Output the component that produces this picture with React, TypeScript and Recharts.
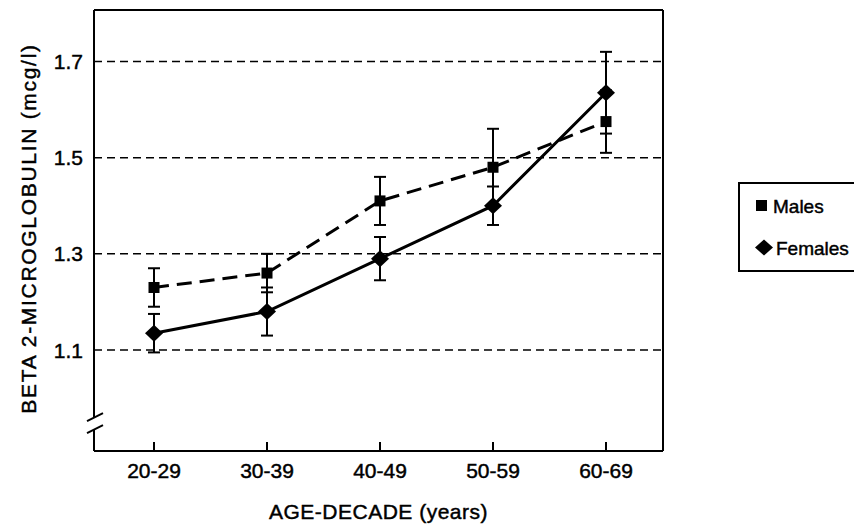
import React from "react";
import {
  LineChart,
  Line,
  XAxis,
  YAxis,
  ErrorBar,
  ReferenceLine,
  Legend,
} from "recharts";

// values
const categories = ["20-29", "30-39", "40-49", "50-59", "60-69"];
const males = [1.23, 1.26, 1.41, 1.48, 1.575];
const malesErr = [0.04, 0.04, 0.05, 0.08, 0.065];
const females = [1.135, 1.18, 1.29, 1.4, 1.635];
const femalesErr = [0.04, 0.05, 0.045, 0.04, 0.085];
const yTicks = [1.1, 1.3, 1.5, 1.7];
const Y_BREAK = 0.95;
const Y_MIN = 0.89;
const Y_MAX = 1.807;
const seriesOrder = ["males", "females"];

const data = categories.map((age, i) => ({
  age,
  males: males[i],
  malesErr: malesErr[i],
  females: females[i],
  femalesErr: femalesErr[i],
}));

const FONT = "'Liberation Sans', Arial, Helvetica, sans-serif";
// scanned text is a bit heavier than a plain regular weight
const textStyle = { stroke: "#000", strokeWidth: 0.45 };

const SquareDot = (props: any) => {
  const { cx, cy, index } = props;
  return (
    <rect key={`m-${index}`} x={cx - 5.5} y={cy - 5.5} width={11} height={11} fill="#000" />
  );
};

const DiamondDot = (props: any) => {
  const { cx, cy, index } = props;
  return (
    <path
      key={`f-${index}`}
      d={`M${cx},${cy - 8.5}L${cx + 9},${cy}L${cx},${cy + 8.5}L${cx - 9},${cy}Z`}
      fill="#000"
    />
  );
};

const YTick = (props: any) => {
  const { x, y, payload } = props;
  const ax = x + 11; // axis line position
  if (payload.value === Y_BREAK) {
    // axis break marks
    return (
      <g stroke="#000" strokeWidth={2}>
        <line x1={ax - 7} y1={y - 1} x2={ax + 9} y2={y - 9} />
        <line x1={ax - 7} y1={y + 11} x2={ax + 9} y2={y + 3} />
      </g>
    );
  }
  return (
    <text
      x={x}
      y={y}
      dy={7.5}
      textAnchor="end"
      fontSize={21}
      fill="#000"
      fontFamily={FONT}
      style={textStyle}
    >
      {payload.value.toFixed(1)}
    </text>
  );
};

const XTick = (props: any) => {
  const { x, y, payload } = props;
  return (
    <g>
      <line x1={x} x2={x} y1={y} y2={y - 9} stroke="#000" strokeWidth={2} />
      <text
        x={x}
        y={y}
        dy={27}
        textAnchor="middle"
        fontSize={21}
        fill="#000"
        fontFamily={FONT}
        style={textStyle}
      >
        {payload.value}
      </text>
    </g>
  );
};

const renderLegend = (props: any) => {
  const { payload = [] } = props;
  const items = seriesOrder
    .map((k) => payload.find((p: any) => p.dataKey === k))
    .filter(Boolean);
  return (
    <svg width={140} height={90} style={{ display: "block" }}>
      <rect x={1} y={1} width={138} height={88} fill="#fff" stroke="#000" strokeWidth={2} />
      {items.map((entry: any, i: number) => {
        const cy = i === 0 ? 23.5 : 65.5;
        const isMale = entry.dataKey === "males";
        return (
          <g key={`legend-${i}`}>
            {isMale ? (
              <rect x={18} y={cy - 5.5} width={11} height={11} fill="#000" />
            ) : (
              <path d={`M26,${cy - 8}L35,${cy}L26,${cy + 8}L17,${cy}Z`} fill="#000" />
            )}
            <text
              x={isMale ? 35 : 38}
              y={cy + 7}
              fontSize={19}
              fill="#000"
              fontFamily={FONT}
              style={textStyle}
            >
              {entry.value}
            </text>
          </g>
        );
      })}
    </svg>
  );
};

export default function App() {
  return (
    <div style={{ width: 854, height: 527, overflow: "hidden", background: "#fff" }}>
      <style>{`body{margin:0;overflow:hidden}`}</style>
      <LineChart
        width={854}
        height={527}
        data={data}
        margin={{ top: 10, right: 189, bottom: 0, left: 0 }}
        style={{ fontFamily: FONT }}
      >
        <XAxis
          dataKey="age"
          height={76}
          padding={{ left: 60, right: 57 }}
          axisLine={{ stroke: "#000", strokeWidth: 2 }}
          tickLine={false}
          tickSize={0}
          tickMargin={0}
          tick={<XTick />}
          interval={0}
          label={{
            value: "AGE-DECADE (years)",
            position: "insideBottom",
            offset: 8,
            fill: "#000",
            fontSize: 21,
            style: { ...textStyle, letterSpacing: 0.5 },
          }}
        />
        <YAxis
          width={94}
          type="number"
          domain={[Y_MIN, Y_MAX]}
          allowDataOverflow
          ticks={[Y_BREAK, ...yTicks]}
          interval={0}
          tickLine={false}
          tickSize={0}
          tickMargin={11}
          tick={<YTick />}
          axisLine={{ stroke: "#000", strokeWidth: 2, strokeDasharray: "407 12 40" }}
          label={{
            value: "BETA 2-MICROGLOBULIN (mcg/l)",
            angle: -90,
            position: "insideLeft",
            offset: 29,
            dy: -2,
            fill: "#000",
            fontSize: 21,
            style: { ...textStyle, textAnchor: "middle", letterSpacing: 1.7 },
          }}
        />
        <YAxis
          yAxisId="frame"
          orientation="right"
          width={2}
          domain={[0, 1]}
          tick={false}
          tickLine={false}
          axisLine={{ stroke: "#000", strokeWidth: 2 }}
        />
        <ReferenceLine y={Y_MAX} stroke="#000" strokeWidth={2} />
        {yTicks.map((v) => (
          <ReferenceLine
            key={`grid-${v}`}
            y={v}
            stroke="#000"
            strokeWidth={1.5}
            strokeDasharray="8 5"
          />
        ))}
        <Line
          name="Males"
          dataKey="males"
          stroke="#000"
          strokeWidth={3}
          strokeDasharray="15 8"
          dot={SquareDot}
          activeDot={false}
          isAnimationActive={false}
        >
          <ErrorBar
            dataKey="malesErr"
            direction="y"
            width={6}
            stroke="#000"
            strokeWidth={2}
            isAnimationActive={false}
          />
        </Line>
        <Line
          name="Females"
          dataKey="females"
          stroke="#000"
          strokeWidth={3}
          dot={DiamondDot}
          activeDot={false}
          isAnimationActive={false}
        >
          <ErrorBar
            dataKey="femalesErr"
            direction="y"
            width={6}
            stroke="#000"
            strokeWidth={2}
            isAnimationActive={false}
          />
        </Line>
        <Legend
          layout="vertical"
          align="center"
          verticalAlign="middle"
          wrapperStyle={{ left: 738, top: 182, width: 140, height: 90 }}
          content={renderLegend}
        />
      </LineChart>
    </div>
  );
}
